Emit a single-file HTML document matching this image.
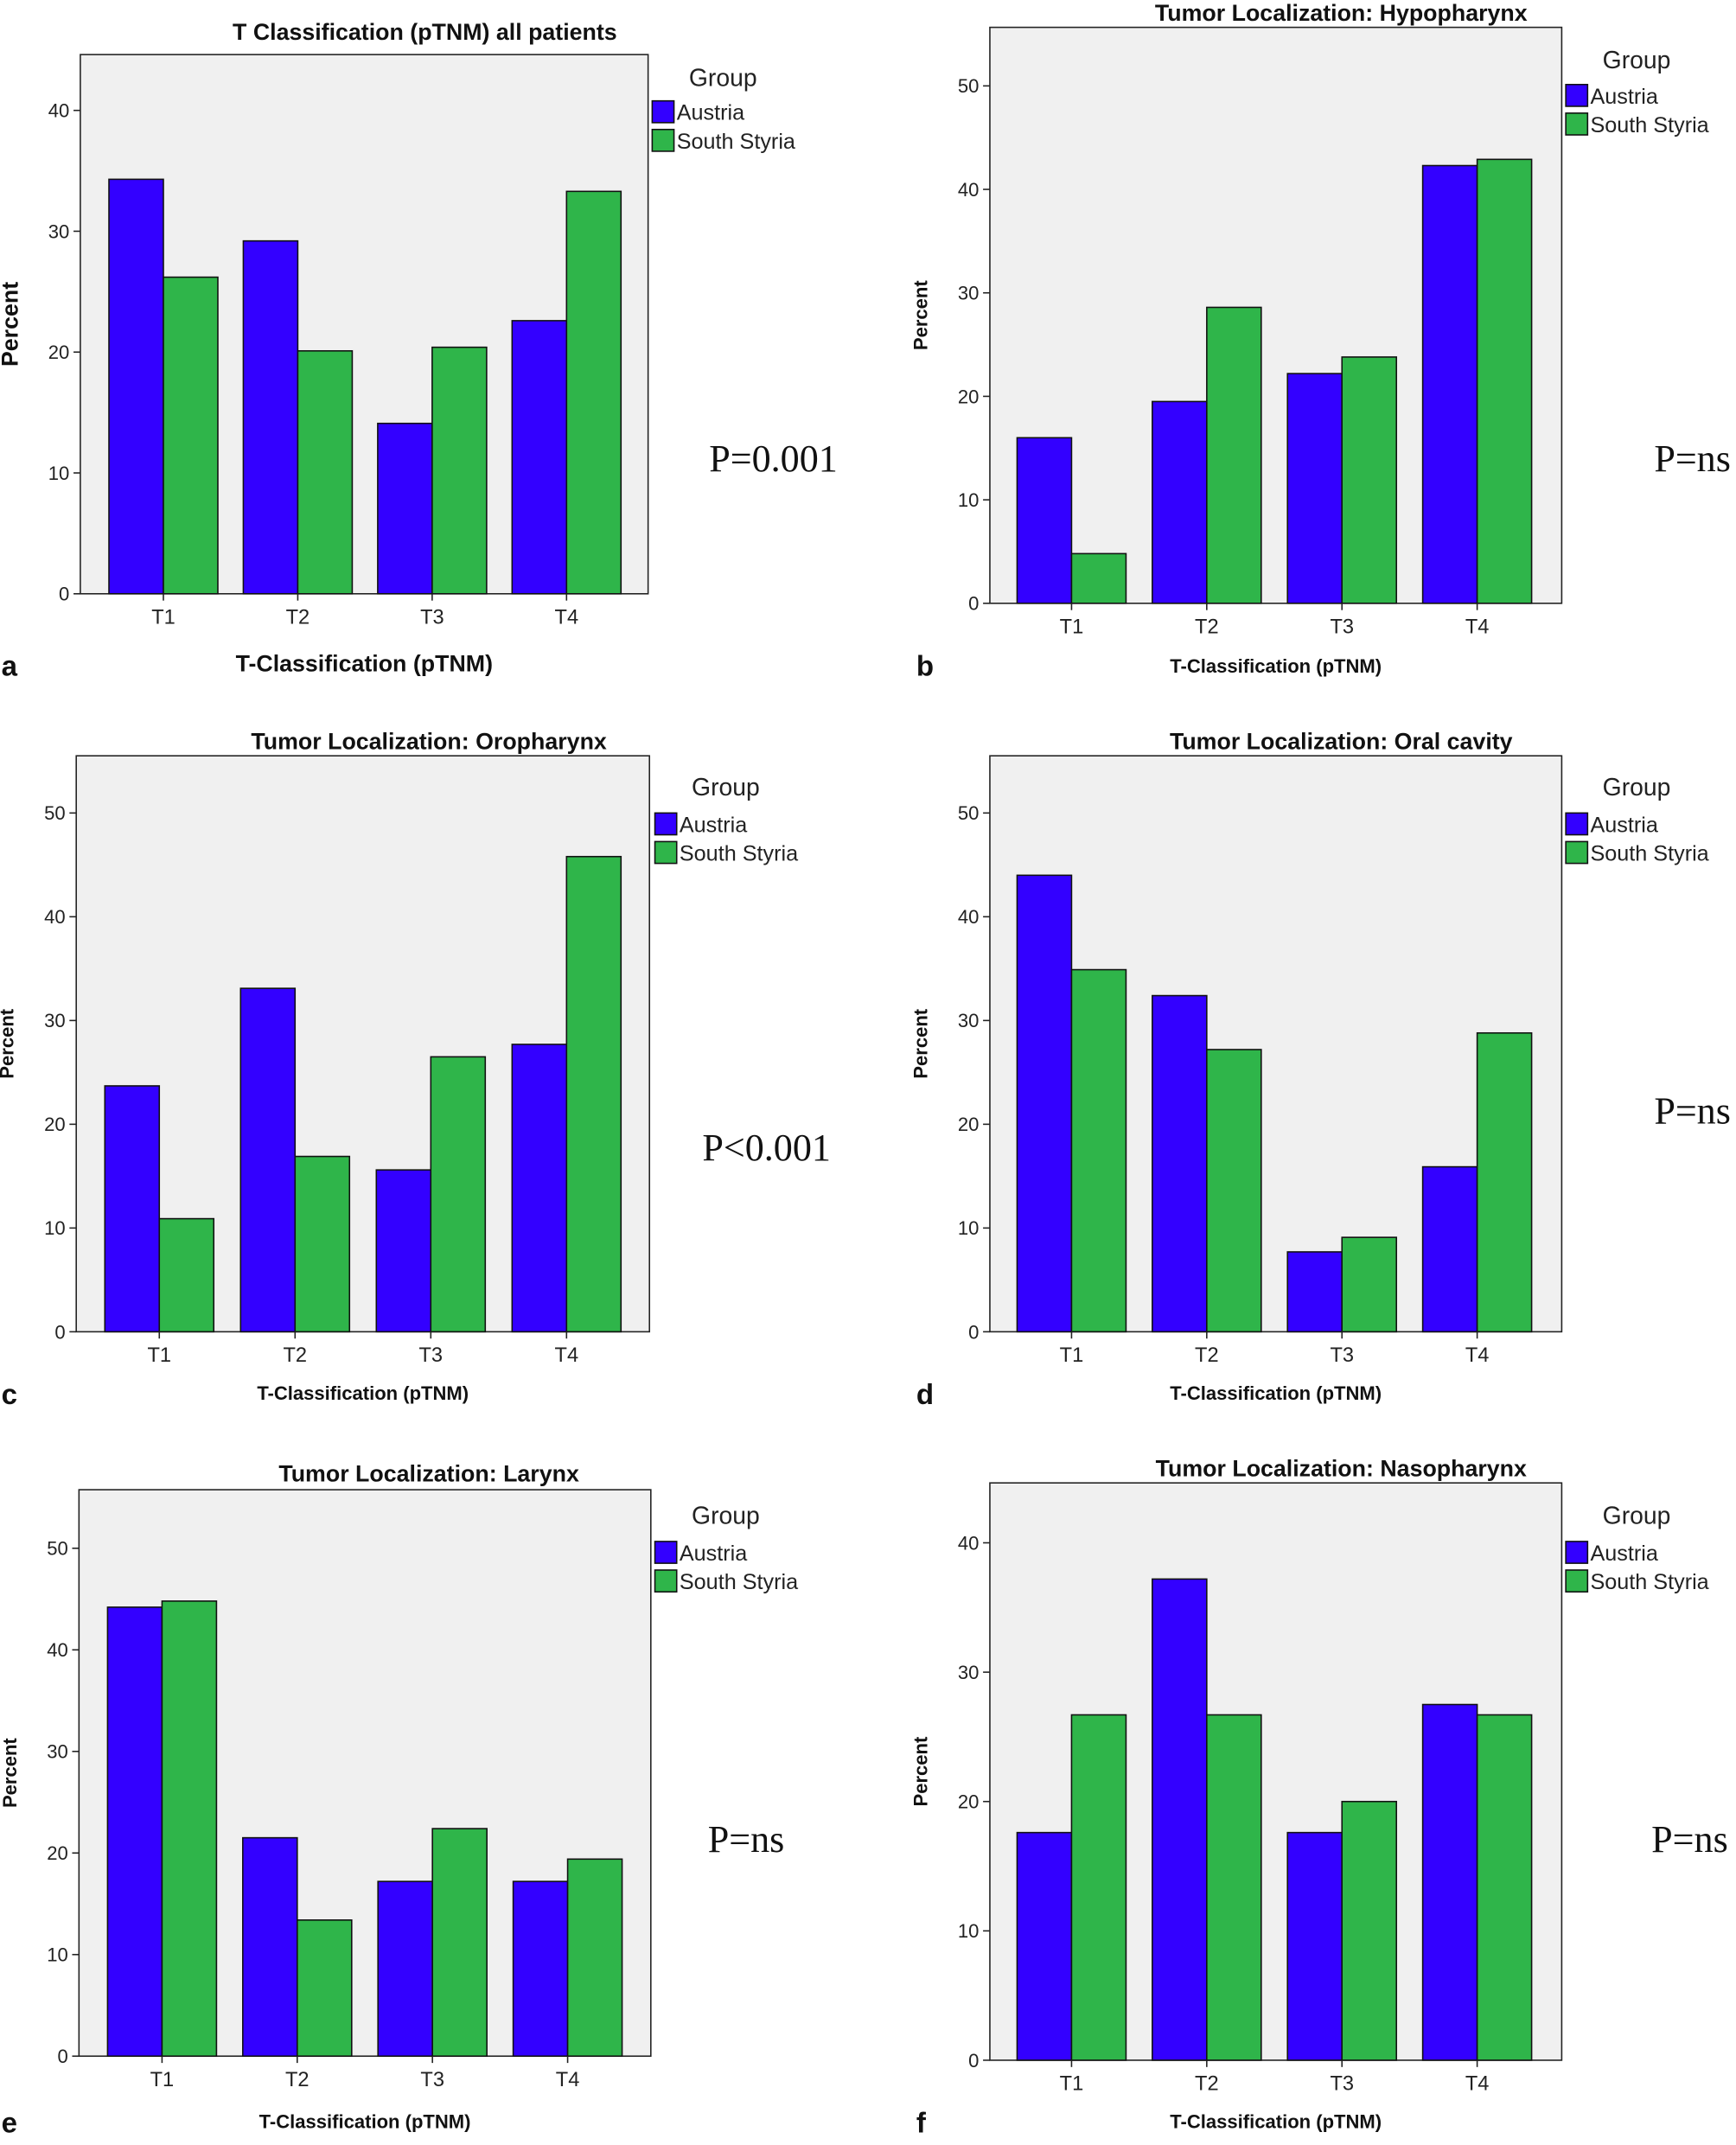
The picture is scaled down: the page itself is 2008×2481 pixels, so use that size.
<!DOCTYPE html>
<html><head><meta charset="utf-8"><style>
html,body{margin:0;padding:0;background:#fff}
svg text{font-family:"Liberation Sans","DejaVu Sans",sans-serif}
</style></head><body>
<svg id="root" xmlns="http://www.w3.org/2000/svg" width="2008" height="2476" viewBox="0 0 1275 1572"></svg>
<script>
const categories = ["T1","T2","T3","T4"];
const seriesNames = ["Austria","South Styria"];
const aAustria = [34.3,29.2,14.1,22.6];
const aStyria  = [26.2,20.1,20.4,33.3];
const bAustria = [16.0,19.5,22.2,42.3];
const bStyria  = [4.8,28.6,23.8,42.9];
const cAustria = [23.7,33.1,15.6,27.7];
const cStyria  = [10.9,16.9,26.5,45.8];
const dAustria = [44.0,32.4,7.7,15.9];
const dStyria  = [34.9,27.2,9.1,28.8];
const eAustria = [44.2,21.5,17.2,17.2];
const eStyria  = [44.8,13.4,22.4,19.4];
const fAustria = [17.6,37.2,17.6,27.5];
const fStyria  = [26.7,26.7,20.0,26.7];
const ticks40 = [0,10,20,30,40];
const ticks50 = [0,10,20,30,40,50];
const titles = ["T Classification (pTNM) all patients","Tumor Localization: Hypopharynx","Tumor Localization: Oropharynx","Tumor Localization: Oral cavity","Tumor Localization: Larynx","Tumor Localization: Nasopharynx"];
const pvals = ["P=0.001","P=ns","P<0.001","P=ns","P=ns","P=ns"];

const NS="http://www.w3.org/2000/svg";
const root=document.getElementById('root');
function mk(tag,attrs,parent,txt){const e=document.createElementNS(NS,tag);for(const k in attrs)e.setAttribute(k,attrs[k]);if(txt!==undefined)e.textContent=txt;(parent||root).appendChild(e);return e;}

const layouts=[
 {id:'a',x0:59,x1:476,yT:40,yB:436,max:40,step:88.75,c0:120,cs:98.7,ticks:ticks40,A:aAustria,S:aStyria,ty:23,tx:312,xl:488,xlSize:17,legX:479,legY:74,gy:57,px:568,py:337,letY:488},
 {id:'b',x0:727,x1:1147,yT:20,yB:443,max:50,step:76,c0:787,cs:99.3,ticks:ticks50,A:bAustria,S:bStyria,ty:9,tx:985,xl:489,xlSize:14,legX:1150,legY:62,gy:44,px:1243,py:337,letY:488},
 {id:'c',x0:56,x1:477,yT:555,yB:978,max:50,step:76.2,c0:117,cs:99.7,ticks:ticks50,A:cAustria,S:cStyria,ty:544,tx:315,xl:1023,xlSize:14,legX:481,legY:597,gy:578,px:563,py:843,letY:1023},
 {id:'d',x0:727,x1:1147,yT:555,yB:978,max:50,step:76.2,c0:787,cs:99.3,ticks:ticks50,A:dAustria,S:dStyria,ty:544,tx:985,xl:1023,xlSize:14,legX:1150,legY:597,gy:578,px:1243,py:816,letY:1023},
 {id:'e',x0:58,x1:478,yT:1094,yB:1510,max:50,step:74.6,c0:119,cs:99.3,ticks:ticks50,A:eAustria,S:eStyria,ty:1082,tx:315,xl:1558,xlSize:14,legX:481,legY:1132,gy:1113,px:548,py:1351,letY:1558},
 {id:'f',x0:727,x1:1147,yT:1089,yB:1513,max:40,step:95,c0:787,cs:99.3,ticks:ticks40,A:fAustria,S:fStyria,ty:1078,tx:985,xl:1558,xlSize:14,legX:1150,legY:1132,gy:1113,px:1241,py:1351,letY:1558}
];
const colors=["#3300ff","#2fb54a"];

layouts.forEach((L,i)=>{
  const g=mk('g',{});
  
  
  const yS=v=>L.yB-v/10*L.step;
  const xS=k=>L.c0+k*L.cs;
  const bg=mk('rect',{x:L.x0,y:L.yT,width:L.x1-L.x0,height:L.yB-L.yT,fill:'#f0f0f0',stroke:'#222','stroke-width':1},g);
  
  
  L.ticks.forEach(t=>{
    const y=yS(t);
    mk('line',{x1:L.x0-5,x2:L.x0,y1:y,y2:y,stroke:'#222'},g);
    const tl=mk('text',{x:L.x0-8,y:y+5,'text-anchor':'end','font-size':14,fill:'#222'},g,t);
    
    
  });
  categories.forEach((c,k)=>{
    const cx=xS(k);
    [L.A,L.S].forEach((arr,s)=>{
      const v=arr[k];
      const r=mk('rect',{x:s===0?cx-40:cx,y:yS(v),width:40,height:yS(0)-yS(v),fill:colors[s],stroke:'#111','stroke-width':1},g);
      
      
    });
    mk('line',{x1:cx,x2:cx,y1:L.yB,y2:L.yB+5,stroke:'#222'},g);
    const xl=mk('text',{x:cx,y:L.yB+22,'text-anchor':'middle','font-size':15,fill:'#222'},g,c);
    
    
  });
  const t=mk('text',{x:L.tx,y:L.ty+6,'text-anchor':'middle','font-size':17,'font-weight':'bold',fill:'#111'},g,titles[i]);
  
  
  const xt=mk('text',{x:(L.x0+L.x1)/2,y:L.xl+5,'text-anchor':'middle','font-size':L.xlSize,'font-weight':'bold',fill:'#111'},g,'T-Classification (pTNM)');
  
  
  const yx=L.x0-46, yy=(L.yT+L.yB)/2;
  const yt=mk('text',{x:yx,y:yy,'text-anchor':'middle','font-size':L.id==='a'?17:14,'font-weight':'bold',fill:'#111',transform:`rotate(-90 ${yx} ${yy})`},g,'Percent');
  
  
  const gt=mk('text',{x:L.legX+52,y:L.gy+6,'text-anchor':'middle','font-size':18,fill:'#222'},g,'Group');
  
  
  seriesNames.forEach((n,s)=>{
    const y=L.legY+s*21;
    const sw=mk('rect',{x:L.legX,y:y,width:16,height:16,fill:colors[s],stroke:'#111'},g);
    
    
    const lt=mk('text',{x:L.legX+18,y:y+14,'font-size':16,fill:'#222'},g,n);
    
    
  });
  const p=mk('text',{x:L.px,y:L.py+9,'text-anchor':'middle','font-size':28,'font-family':'Liberation Serif, serif',fill:'#111',style:'font-family:"Liberation Serif",serif'},g,pvals[i]);
  
  
  const lx=L.id==='a'||L.id==='c'||L.id==='e'?1:673;
  const lt=mk('text',{x:lx,y:L.letY+8,'font-size':21,'font-weight':'bold',fill:'#111'},g,L.id);
  
  
});
</script>
</body></html>
